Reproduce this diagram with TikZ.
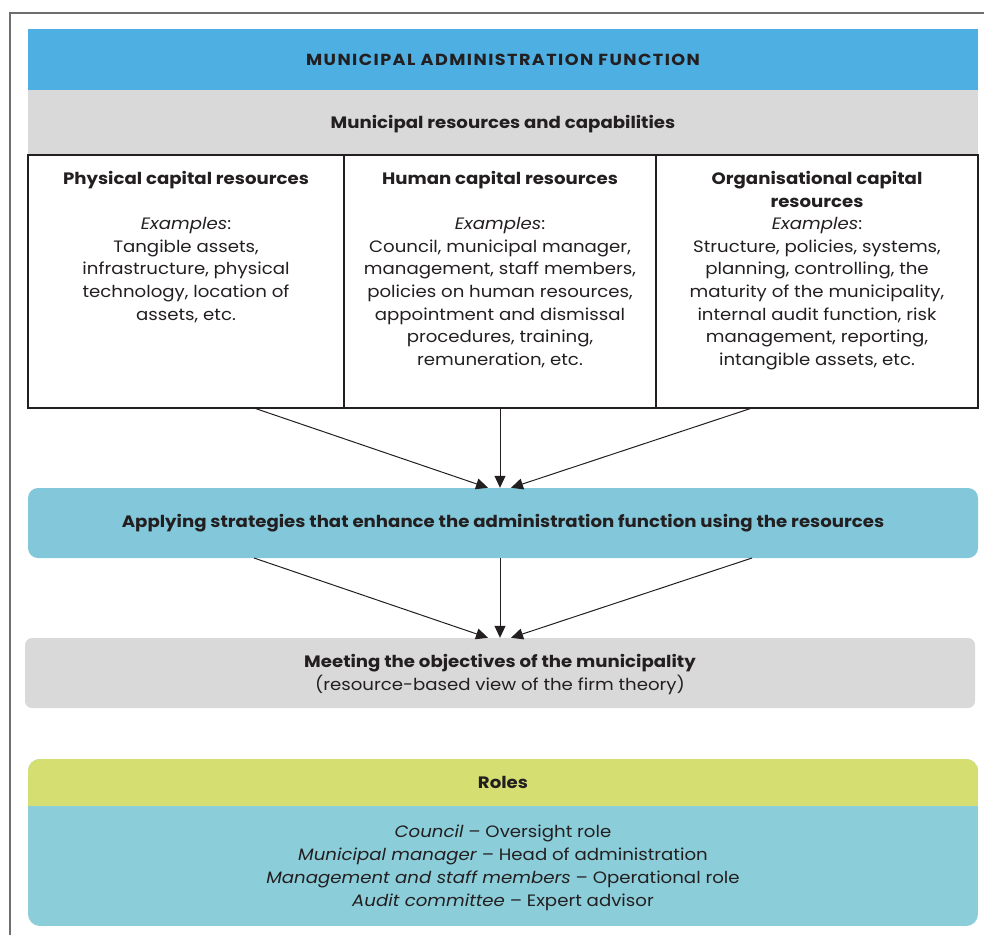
\documentclass[tikz,border=0pt]{standalone}
\usepackage{fontspec}
\setmainfont[FakeStretch=1.1]{Poppins}
\usetikzlibrary{arrows.meta,calc}
\definecolor{hdrblue}{HTML}{4EAFE2}
\definecolor{resgray}{HTML}{D9D9D9}
\definecolor{stratblue}{HTML}{82C7DA}
\definecolor{rolegreen}{HTML}{D5DE71}
\definecolor{roleteal}{HTML}{8BCDD9}
\definecolor{ink}{HTML}{231F20}
\definecolor{framegray}{HTML}{6D6E70}
\begin{document}
\begin{tikzpicture}[x=1pt,y=-1pt,
  every node/.style={text=ink, inner sep=0pt},
  band/.style={minimum width=950pt, anchor=center},
  resbox/.style={draw=ink, line width=1.1pt, minimum height=253pt},
  boxtext/.style={anchor=north, align=center, font=\fontsize{16.5}{22.6}\selectfont},
  bodytext/.style={align=center, font=\fontsize{16.5}{22.9}\selectfont},
  headfont/.style={font=\bfseries\fontsize{16.5}{19}\selectfont},
  arr/.style={draw=ink, line width=1pt, -{Triangle[length=12pt,width=11pt]}},
]
\useasboundingbox (0,0) rectangle (984,935);
% outer frame
\draw[framegray, line width=1.3pt] (10,935) -- (10,13) -- (984,13);

% header bands
\node[band, fill=hdrblue, minimum height=61pt,
  font=\bfseries\fontsize{16}{19}\selectfont\addfontfeatures{LetterSpace=9}]
  (hdr) at (503,59.5) {MUNICIPAL ADMINISTRATION FUNCTION};
\node[band, fill=resgray, minimum height=65pt] (res) at (503,122.5) {};
\node[headfont] (rest) at (503,124.5) {Municipal resources and capabilities};

% three resource boxes
\node[resbox, minimum width=316pt] (phys) at (186,281.5) {};
\node[resbox, minimum width=312pt] (human) at (500,281.5) {};
\node[resbox, minimum width=322pt] (org) at (817,281.5) {};

\node[boxtext] (physt) at (186,171) {\textbf{Physical capital resources}\\[22.6pt]
  \textit{Examples}:\\Tangible assets,\\infrastructure, physical\\technology, location of\\assets, etc.};
\node[boxtext] (humant) at (500,171) {\textbf{Human capital resources}\\[22.6pt]
  \textit{Examples}:\\Council, municipal manager,\\management, staff members,\\policies on human resources,\\appointment and dismissal\\procedures, training,\\remuneration, etc.};
\node[boxtext] (orgt) at (817,171) {\textbf{Organisational capital}\\\textbf{resources}\\
  \textit{Examples}:\\Structure, policies, systems,\\planning, controlling, the\\maturity of the municipality,\\internal audit function, risk\\management, reporting,\\intangible assets, etc.};

% strategy box
\node[band, fill=stratblue, minimum height=70pt, rounded corners=10pt, headfont] (strat) at (503,523)
  {Applying strategies that enhance the administration function using the resources};

% objectives box
\node[band, fill=resgray, minimum height=70pt, rounded corners=7pt] (obj) at (500,673) {};
\node[bodytext] (objt) at (500,674.5)
  {\textbf{Meeting the objectives of the municipality}\\(resource-based view of the firm theory)};

% roles panel
\begin{scope}
  \clip[rounded corners=12pt] (28,759) rectangle (978,926);
  \fill[roleteal] (28,759) rectangle (978,926);
  \fill[rolegreen] (28,759) rectangle (978,806);
\end{scope}
\node[headfont] (roles) at (503,782) {Roles};
\node[bodytext] (rolelist) at (503,868)
  {\textit{Council} – Oversight role\\
   \textit{Municipal manager} – Head of administration\\
   \textit{Management and staff members} – Operational role\\
   \textit{Audit committee} – Expert advisor};

% connectors
\coordinate (a1) at (254,408);
\coordinate (a3) at (752,408);
\coordinate (b1) at (254,558);
\coordinate (b3) at (752,558);
\draw[arr] (a1) -- ([xshift=-15pt]strat.north);
\draw[arr] (human.south) -- ([xshift=-3pt]strat.north);
\draw[arr] (a3) -- ([xshift=8pt]strat.north);
\draw[arr] (b1) -- ([xshift=-12pt]obj.north);
\draw[arr] (b1 -| obj.north) -- (obj.north);
\draw[arr] (b3) -- ([xshift=11pt]obj.north);
\end{tikzpicture}
\end{document}
